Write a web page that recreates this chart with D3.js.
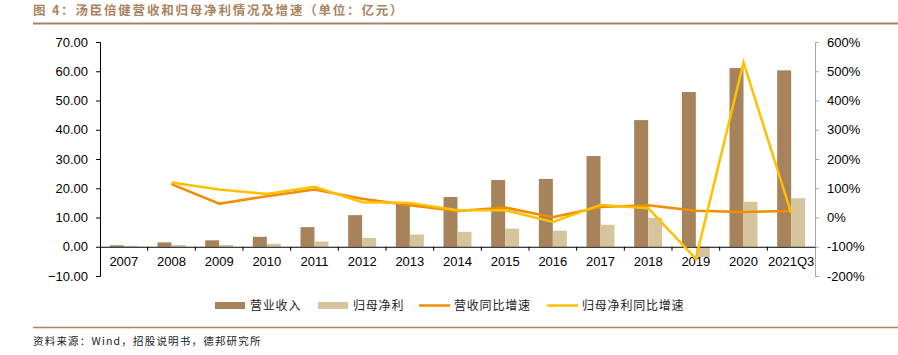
<!DOCTYPE html>
<html><head><meta charset="utf-8">
<script src="https://cdn.jsdelivr.net/npm/d3@7"></script>
<style>body{margin:0;background:#fff}svg{display:block}</style>
</head><body>
<svg id="c" width="898" height="355"></svg>
<script>
const categories = ["2007","2008","2009","2010","2011","2012","2013","2014","2015","2016","2017","2018","2019","2020","2021Q3"];
const revenue = [0.5,1.5,2.2,3.4,6.7,10.8,14.8,17.0,22.8,23.2,31.0,43.3,52.9,61.1,60.3];
const netProfit = [0.3,0.6,0.6,1.0,1.8,3.0,4.2,5.1,6.2,5.5,7.5,9.9,-3.5,15.4,16.6];
const revenueGrowth = [null,114,47,73,96,64,42,22,34,1,36,42,23,19,22];
const profitGrowth = [null,120,96,80,105,52,50,25,25,-15,43,32,-141,530,16];
const leftTicks = [-10,0,10,20,30,40,50,60,70];
const rightTicks = [-200,-100,0,100,200,300,400,500,600];
const seriesNames = ["营业收入","归母净利","营收同比增速","归母净利同比增速"];

const svg = d3.select("#c");
const colRev = "#A6835B", colNp = "#D6C59C", colRg = "#F28C00", colPg = "#FFC000", brown = "#A98460";
const L = 100, R = 815, T = 42, B = 276;
const x = d3.scaleBand().domain(categories).range([L, R]);
const yL = d3.scaleLinear().domain([-10,70]).range([B, T]);
const yR = d3.scaleLinear().domain([-200,600]).range([B, T]);
const font = "'Liberation Sans', Arial, sans-serif";
const cjk = "'Noto Sans CJK SC', sans-serif";

// title
svg.append("text").attr("x",33).attr("y",15).attr("font-family",cjk).attr("font-size",12.5).attr("font-weight","bold")
  .attr("letter-spacing",1.8).attr("fill",brown).text("图 4：汤臣倍健营收和归母净利情况及增速（单位：亿元）");
svg.append("line").attr("x1",33).attr("x2",898).attr("y1",23.5).attr("y2",23.5).attr("stroke",brown).attr("stroke-width",2);
svg.append("line").attr("x1",33).attr("x2",898).attr("y1",327.5).attr("y2",327.5).attr("stroke",brown).attr("stroke-width",1.5);
svg.append("text").attr("x",33).attr("y",345).attr("font-family",cjk).attr("font-size",10.5).attr("letter-spacing",1.2).attr("fill","#222")
  .text("资料来源：Wind，招股说明书，德邦研究所");

// bars
const bw = 14;
const g = svg.append("g");
g.selectAll(".rev").data(categories).enter().append("rect")
  .attr("x", d => x(d) + x.bandwidth()/2 - bw)
  .attr("width", bw)
  .attr("y", (d,i) => yL(Math.max(0,revenue[i])))
  .attr("height", (d,i) => Math.abs(yL(revenue[i]) - yL(0)))
  .attr("fill", colRev);
g.selectAll(".np").data(categories).enter().append("rect")
  .attr("x", d => x(d) + x.bandwidth()/2)
  .attr("width", bw)
  .attr("y", (d,i) => yL(Math.max(0,netProfit[i])))
  .attr("height", (d,i) => Math.abs(yL(netProfit[i]) - yL(0)))
  .attr("fill", colNp);

// left axis
const la = svg.append("g").attr("transform",`translate(${L},0)`)
  .call(d3.axisLeft(yL).tickValues(leftTicks).tickFormat(d3.format(".2f")).tickSize(4).tickPadding(8));
la.selectAll("text").attr("font-family",font).attr("font-size",13).attr("fill","#000");
la.selectAll("line,path").attr("stroke","#000");

// right axis
const ra = svg.append("g").attr("transform",`translate(${R},0)`)
  .call(d3.axisRight(yR).tickValues(rightTicks).tickFormat(d => d + "%").tickSize(4).tickPadding(8));
ra.selectAll("text").attr("font-family",font).attr("font-size",13).attr("fill","#000");
ra.selectAll("line,path").attr("stroke","#aaa");

// x axis at 0
const xa = svg.append("g").attr("transform",`translate(0,${yL(0)})`)
  .call(d3.axisBottom(x).tickSize(0).tickPadding(10));
xa.select("path").attr("stroke","#000").attr("stroke-width",1.2);
xa.selectAll("text").attr("font-family",font).attr("font-size",13).attr("fill","#000");
xa.selectAll(".bt").data(categories.slice(1)).enter().append("line")
  .attr("x1", d => x(d)).attr("x2", d => x(d)).attr("y1",0).attr("y2",4).attr("stroke","#000");

// lines
const line = arr => d3.line().defined(d => d != null)
  .x((d,i) => x(categories[i]) + x.bandwidth()/2).y(d => yR(d))(arr);
svg.append("path").attr("d", line(revenueGrowth)).attr("fill","none").attr("stroke",colRg).attr("stroke-width",2.5);
svg.append("path").attr("d", line(profitGrowth)).attr("fill","none").attr("stroke",colPg).attr("stroke-width",2.5);

// legend
const lg = svg.append("g").attr("font-family",cjk).attr("font-size",12).attr("letter-spacing",0.8).attr("fill","#222");
const items = [
  {x:215, type:"rect", c:colRev},
  {x:318, type:"rect", c:colNp},
  {x:419, type:"line", c:colRg},
  {x:547, type:"line", c:colPg}
];
items.forEach((it,i) => {
  if (it.type === "rect") lg.append("rect").attr("x",it.x).attr("y",302).attr("width",30).attr("height",7).attr("fill",it.c);
  else lg.append("line").attr("x1",it.x).attr("x2",it.x+31).attr("y1",305.5).attr("y2",305.5).attr("stroke",it.c).attr("stroke-width",2.5);
  lg.append("text").attr("x",it.x+35).attr("y",310).text(seriesNames[i]);
});
</script>
</body></html>
